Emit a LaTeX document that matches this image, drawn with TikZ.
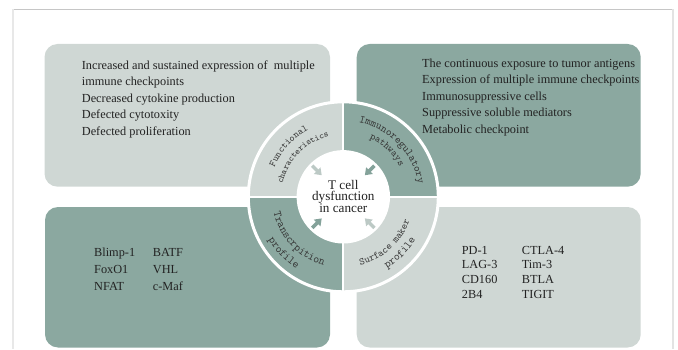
\documentclass[tikz,border=0pt]{standalone}
\usepackage{fontspec}
\setmainfont{Liberation Serif}
\usetikzlibrary{decorations.text,arrows.meta}
\definecolor{lightbox}{HTML}{CFD7D4}
\definecolor{darkbox}{HTML}{8BA8A0}
\definecolor{lightarrow}{HTML}{BCC9C5}
\definecolor{darkarrow}{HTML}{84A29A}
\definecolor{txt}{HTML}{222222}
\definecolor{ringtxt}{HTML}{333333}
\tikzset{
  panel/.style={rounded corners=13pt},
  boxtext/.style={anchor=base west, inner sep=0pt, text=txt, font=\fontsize{12.3}{14}\selectfont},
  centertext/.style={anchor=base, inner sep=0pt, text=txt, font=\fontsize{13.2}{14}\selectfont},
  inarrow/.style={line width=3.4pt, -{Triangle[width=9pt,length=6.5pt]}},
  ringlabel/.style 2 args={decorate, decoration={text along path, text align=center,
      text={|\fontsize{#1}{#1}\selectfont\ttfamily\color{ringtxt}|#2}}}
}
\begin{document}
\begin{tikzpicture}[x=1pt,y=1pt]
\useasboundingbox (0,0) rectangle (678,349);
% frame
\draw[gray!45, line width=0.9pt] (13,339.5) -- (673,339.5);
\draw[gray!18, line width=1.2pt] (13,339.5) -- (13,0);
\draw[gray!22, line width=1.5pt] (673,339.5) -- (673,0);
% panels
\fill[panel, lightbox] (44.5,162.3) rectangle (330,305);
\fill[panel, darkbox] (356.7,162.3) rectangle (640.7,305);
\fill[panel, darkbox] (45,1.5) rectangle (330,142);
\fill[panel, lightbox] (356.7,1.5) rectangle (640.7,142);
% ring
\coordinate (C) at (343.3,152.2);
\fill[lightbox] (C) -- ++(90:94) arc[start angle=90,end angle=180,radius=94] -- cycle;
\fill[darkbox] (C) -- ++(0:94) arc[start angle=0,end angle=90,radius=94] -- cycle;
\fill[darkbox] (C) -- ++(180:94) arc[start angle=180,end angle=270,radius=94] -- cycle;
\fill[lightbox] (C) -- ++(270:94) arc[start angle=270,end angle=360,radius=94] -- cycle;
\draw[white, line width=2pt] (C) ++(-96,0) -- ++(192,0);
\draw[white, line width=2pt] (C) ++(0,-96) -- ++(0,192);
\draw[white, line width=3pt] (C) circle[radius=95];
\fill[white] (C) circle[radius=46.7];
% ring labels
\path[ringlabel={9.7}{Functional}] (C) ++(182.3:75) arc[start angle=182.3,end angle=92.3,radius=75];
\path[ringlabel={8.9}{characteristics}] (C) ++(180.7:62) arc[start angle=180.7,end angle=90.7,radius=62];
\path[ringlabel={10.8}{Immunoregulatory}] (C) ++(88.9:76) arc[start angle=88.9,end angle=-1.1,radius=76];
\path[ringlabel={10}{pathways}] (C) ++(92:64) arc[start angle=92,end angle=2,radius=64];
\path[ringlabel={11.4}{Transcrpition}] (C) ++(178.5:71.5) arc[start angle=178.5,end angle=268.5,radius=71.5];
\path[ringlabel={11.4}{profile}] (C) ++(178.3:86) arc[start angle=178.3,end angle=268.3,radius=86];
\path[ringlabel={10.1}{Surface maker}] (C) ++(267.1:70.5) arc[start angle=267.1,end angle=357.1,radius=70.5];
\path[ringlabel={11.4}{profile}] (C) ++(270.2:84) arc[start angle=270.2,end angle=360.2,radius=84];
% arrows
\path (C) ++(135:44) coordinate (tlA) (C) ++(135:30.5) coordinate (tlB);
\path (C) ++(45:44) coordinate (trA) (C) ++(45:30.5) coordinate (trB);
\path (C) ++(225:44) coordinate (blA) (C) ++(225:30.5) coordinate (blB);
\path (C) ++(315:44) coordinate (brA) (C) ++(315:30.5) coordinate (brB);
\draw[inarrow, lightarrow] (tlA) -- (tlB);
\draw[inarrow, darkarrow] (trA) -- (trB);
\draw[inarrow, darkarrow] (blA) -- (blB);
\draw[inarrow, lightarrow] (brA) -- (brB);
% center text
\node[centertext] (c1) at (343.3,159.7) {T cell};
\node[centertext] (c2) at (343.3,148.2) {dysfunction};
\node[centertext] (c3) at (343.3,136.8) {in cancer};
% top-left text
\node[boxtext] (tl1) at (81.7,279.7) {Increased and sustained expression of~ multiple};
\node[boxtext] (tl2) at (81.7,263.2) {immune checkpoints};
\node[boxtext] (tl3) at (81.7,246.7) {Decreased cytokine production};
\node[boxtext] (tl4) at (81.7,230.2) {Defected cytotoxity};
\node[boxtext] (tl5) at (81.7,213.7) {Defected proliferation};
% top-right text
\node[boxtext] (tr1) at (422,281.7) {The continuous exposure to tumor antigens};
\node[boxtext] (tr2) at (422,265.2) {Expression of multiple immune checkpoints};
\node[boxtext] (tr3) at (422,248.7) {Immunosuppressive cells};
\node[boxtext] (tr4) at (422,232.2) {Suppressive soluble mediators};
\node[boxtext] (tr5) at (422,215.7) {Metabolic checkpoint};
% bottom-left text
\node[boxtext] (bl1) at (94,93) {Blimp-1};
\node[boxtext] (bl2) at (94,76) {FoxO1};
\node[boxtext] (bl3) at (94,59) {NFAT};
\node[boxtext] (bl4) at (152.7,93) {BATF};
\node[boxtext] (bl5) at (152.7,76) {VHL};
\node[boxtext] (bl6) at (152.7,59) {c-Maf};
% bottom-right text
\node[boxtext] (br1) at (461.7,95) {PD-1};
\node[boxtext] (br2) at (461.7,80.3) {LAG-3};
\node[boxtext] (br3) at (461.7,65.6) {CD160};
\node[boxtext] (br4) at (461.7,51) {2B4};
\node[boxtext] (br5) at (521.7,95) {CTLA-4};
\node[boxtext] (br6) at (521.7,80.3) {Tim-3};
\node[boxtext] (br7) at (521.7,65.6) {BTLA};
\node[boxtext] (br8) at (521.7,51) {TIGIT};
\end{tikzpicture}
\end{document}
